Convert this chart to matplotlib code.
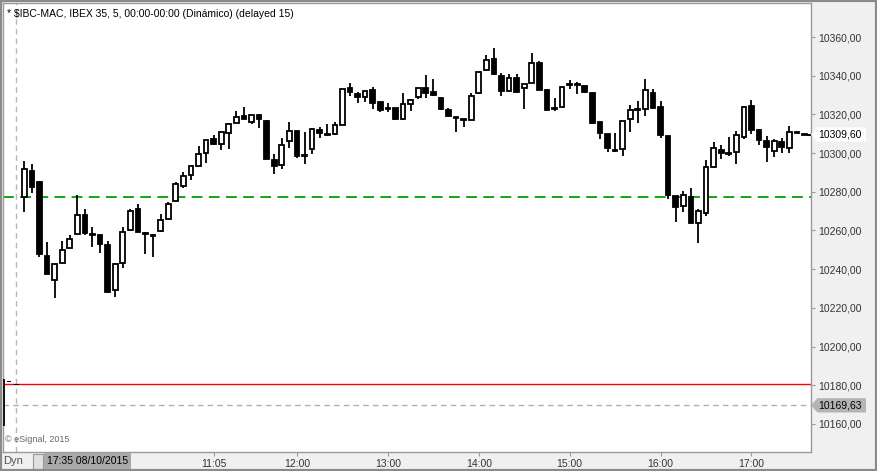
import numpy as np
import matplotlib.pyplot as plt
from matplotlib.patches import Polygon, Rectangle

plt.rcParams['font.family'] = ['Liberation Sans', 'DejaVu Sans']

# 5-minute IBEX 35 candles, 08/10/2015 09:00 -> 17:35
opens = [10277.5, 10290.7, 10285.1, 10246.7, 10234.3, 10243.1, 10250.8, 10258.0, 10267.9, 10258.0,
         10257.5, 10252.4, 10229.1, 10243.0, 10260.4, 10271.0, 10258.3, 10257.7, 10259.6, 10265.8,
         10275.1, 10282.8, 10288.8, 10293.5, 10299.9, 10307.1, 10304.5, 10310.2, 10315.4, 10319.0,
         10315.9, 10319.7, 10316.4, 10296.3, 10293.7, 10306.1, 10311.3, 10298.9, 10302.3, 10311.9,
         10309.9, 10309.7, 10314.7, 10333.5, 10330.7, 10328.8, 10332.5, 10326.3, 10323.0, 10323.3,
         10317.8, 10325.3, 10328.8, 10333.5, 10331.4, 10328.3, 10322.1, 10318.5, 10317.5, 10317.0,
         10331.2, 10342.8, 10348.5, 10339.7, 10331.9, 10338.7, 10333.5, 10336.1, 10346.4, 10332.5,
         10323.2, 10323.7, 10335.2, 10335.6, 10334.5, 10330.9, 10315.9, 10309.9, 10301.2, 10302.1,
         10317.5, 10322.5, 10322.6, 10330.9, 10323.7, 10308.7, 10277.7, 10272.5, 10277.5, 10264.0,
         10269.2, 10293.0, 10301.6, 10299.7, 10300.4, 10308.2, 10324.2, 10311.8, 10306.1, 10300.9,
         10305.6, 10302.5, 10310.6, 10309.7]
highs = [10295.9, 10294.4, 10285.6, 10254.1, 10242.5, 10254.4, 10257.7, 10278.3, 10271.1, 10261.6,
         10257.5, 10254.6, 10243.0, 10261.6, 10271.0, 10273.7, 10259.1, 10258.3, 10268.5, 10274.6,
         10284.9, 10290.1, 10293.2, 10303.7, 10306.6, 10309.4, 10310.7, 10315.7, 10321.8, 10323.8,
         10319.7, 10320.1, 10317.3, 10299.5, 10307.6, 10316.1, 10311.3, 10310.9, 10312.8, 10313.5,
         10315.0, 10316.1, 10333.3, 10336.4, 10331.7, 10331.9, 10334.2, 10326.8, 10325.9, 10323.3,
         10331.1, 10327.8, 10333.5, 10340.4, 10338.3, 10328.3, 10323.2, 10318.8, 10317.8, 10330.9,
         10341.8, 10350.5, 10354.3, 10341.2, 10340.7, 10340.7, 10335.6, 10351.7, 10347.4, 10333.0,
         10328.3, 10334.0, 10337.6, 10336.6, 10334.5, 10331.4, 10315.9, 10309.9, 10310.4, 10316.4,
         10324.7, 10326.8, 10338.1, 10333.0, 10326.8, 10308.7, 10277.7, 10280.3, 10281.8, 10271.0,
         10296.4, 10305.7, 10304.2, 10308.3, 10311.4, 10324.2, 10327.3, 10312.3, 10308.7, 10307.1,
         10307.6, 10313.8, 10310.7, 10309.8]
lows = [10269.7, 10279.2, 10246.5, 10237.7, 10225.3, 10243.1, 10250.8, 10258.0, 10257.9, 10251.6,
        10248.2, 10227.5, 10225.8, 10240.5, 10259.9, 10259.4, 10248.0, 10246.5, 10259.1, 10265.8,
        10275.1, 10281.8, 10286.1, 10293.2, 10294.7, 10304.0, 10301.8, 10302.3, 10315.4, 10317.8,
        10315.2, 10313.1, 10296.8, 10289.4, 10292.0, 10302.8, 10297.6, 10294.5, 10299.7, 10307.6,
        10308.8, 10309.2, 10314.4, 10329.7, 10325.7, 10326.6, 10323.0, 10321.4, 10321.4, 10317.3,
        10317.3, 10321.9, 10327.8, 10328.3, 10329.4, 10322.4, 10319.3, 10311.1, 10313.6, 10317.0,
        10330.7, 10342.8, 10340.2, 10329.4, 10331.9, 10330.9, 10323.0, 10336.1, 10332.5, 10322.4,
        10321.9, 10323.7, 10333.0, 10330.4, 10330.9, 10315.2, 10307.4, 10300.7, 10300.7, 10298.7,
        10311.1, 10315.4, 10319.0, 10323.2, 10307.6, 10276.1, 10264.5, 10269.7, 10264.0, 10253.7,
        10267.7, 10292.5, 10297.1, 10298.7, 10294.5, 10307.1, 10309.7, 10304.0, 10295.6, 10297.8,
        10299.9, 10299.9, 10310.3, 10309.4]
closes = [10291.6, 10282.6, 10248.0, 10237.7, 10242.5, 10249.8, 10255.4, 10267.9, 10258.6, 10257.5,
          10252.9, 10228.4, 10242.5, 10259.1, 10269.9, 10259.4, 10258.0, 10257.3, 10265.3, 10273.5,
          10283.9, 10288.0, 10293.2, 10299.5, 10306.6, 10304.9, 10310.7, 10315.0, 10318.5, 10317.8,
          10319.7, 10317.4, 10296.8, 10293.2, 10304.0, 10311.3, 10298.7, 10298.5, 10312.3, 10310.2,
          10309.5, 10314.4, 10333.3, 10331.7, 10328.8, 10331.9, 10325.7, 10322.4, 10322.6, 10317.8,
          10325.3, 10327.3, 10333.5, 10330.9, 10329.9, 10323.0, 10319.3, 10318.2, 10317.2, 10329.4,
          10341.8, 10348.0, 10340.7, 10331.9, 10338.7, 10331.4, 10335.6, 10346.4, 10332.5, 10322.4,
          10322.8, 10334.0, 10335.0, 10335.4, 10331.4, 10315.7, 10310.5, 10302.8, 10301.0, 10316.4,
          10322.1, 10322.2, 10332.5, 10323.5, 10309.2, 10278.5, 10272.0, 10278.2, 10264.0, 10269.9,
          10292.7, 10302.5, 10300.2, 10299.4, 10309.2, 10323.7, 10311.8, 10306.6, 10303.0, 10306.1,
          10303.0, 10310.7, 10310.4, 10309.6]

# tail of the previous session visible at the left edge
prev_opens = [10159.5, 10181.9, 10180.6]
prev_closes = [10182.7, 10181.5, 10180.2]

tick_labels = ['11:05', '12:00', '13:00', '14:00', '15:00', '16:00', '17:00']
tick_index = [25, 36, 48, 60, 72, 84, 96]

green_level = 10277.3
red_level = 10180.5
gray_level = 10169.63
last_price = closes[-1]

W, H = 877, 471
fig = plt.figure(figsize=(W / 100, H / 100), dpi=100)
fig.patch.set_facecolor('#f0f0f0')
ax = fig.add_axes([3 / W, 19 / H, 808 / W, 449 / H])
ax.set_facecolor('white')


def draw_candles(idx, o, h, l, c):
    idx = np.asarray(idx, dtype=float)
    o, h, l, c = map(np.asarray, (o, h, l, c))
    ax.vlines(idx, l, h, color='black', lw=1.3, zorder=3)
    up = c > o + 0.3
    bot = np.minimum(o, c)
    hgt = np.maximum(np.abs(c - o), 0.5)
    ax.bar(idx[up], hgt[up], bottom=bot[up], width=0.62, facecolor='white',
           edgecolor='black', lw=1.3, zorder=4)
    ax.bar(idx[~up], hgt[~up], bottom=bot[~up], width=0.62, facecolor='black',
           edgecolor='black', lw=1.3, zorder=4)


x = np.arange(len(opens))
draw_candles(x, opens, highs, lows, closes)
px = np.array([-3, -2, -1])
pc = np.array(prev_closes)
po = np.array(prev_opens)
ax.vlines(px, np.minimum(po, pc), np.maximum(po, pc), color='black', lw=1.3, zorder=3)
ax.bar(px[:1], pc[:1] - po[:1], bottom=po[:1], width=0.62, facecolor='white',
       edgecolor='black', lw=1.3, zorder=4)
ax.bar(px[1:], 0.6, bottom=pc[1:], width=0.62, color='black', zorder=4)

ax.set_xlim(-2.81, 103.86)
ax.set_ylim(10145.5, 10377.6)

# reference lines
ax.axhline(green_level, color='#00a000', lw=1.3, dashes=(6, 3.5), zorder=2)
ax.axhline(red_level, color='#ff0000', lw=1.0, zorder=2)
ax.axhline(gray_level, color='#b0b0b0', lw=1.0, dashes=(4, 3), zorder=2)
ax.axvline(-1.1, color='#b8b8b8', lw=1.0, dashes=(4, 3), zorder=1)
ax.plot([103.3, 103.86], [last_price, last_price], color='black', lw=1.5,
        dashes=(2.5, 2), zorder=2, clip_on=False)

# axes styling
for s in ax.spines.values():
    s.set_color('#9a9a9a')
    s.set_linewidth(1.0)
ax.yaxis.tick_right()
yt = np.arange(10160, 10361, 20)
ax.set_yticks(yt)
ax.set_yticklabels([f'{v:.2f}'.replace('.', ',') for v in yt])
ax.tick_params(axis='y', direction='out', length=3, width=0.8, color='#9a9a9a',
               labelsize=7.5, labelcolor='#333333', pad=2)
ax.set_xticks(tick_index)
ax.set_xticklabels(tick_labels)
ax.tick_params(axis='x', direction='out', length=3, width=0.8, color='#9a9a9a',
               labelsize=7.5, labelcolor='#333333', pad=2)

# title and footer texts
ax.text(4 / 808, 1 - 11 / 449, '* $IBC-MAC, IBEX 35, 5, 00:00-00:00 (Dinámico) (delayed 15)',
        transform=ax.transAxes, fontsize=7.5, color='black', va='center', ha='left')
ax.text(2 / 808, 13 / 449, '© eSignal, 2015', transform=ax.transAxes, fontsize=6.5,
        color='#666666', va='center', ha='left')

# price boxes on the right axis
yx = ax.get_yaxis_transform()
half = 3.7
for val, fc in [(last_price, 'white'), (gray_level, '#b4b4b4')]:
    poly = Polygon([(1.0, val), (1.008, val + half), (1.068, val + half),
                    (1.068, val - half), (1.008, val - half)],
                   closed=True, transform=yx, facecolor=fc, edgecolor='none',
                   clip_on=False, zorder=5)
    ax.add_patch(poly)
    ax.text(1.009, val, f'{val:.2f}'.replace('.', ','), transform=yx, fontsize=7.5,
            color='black', va='center', ha='left', clip_on=False, zorder=6)

# bottom-left controls
fig.text(3 / W, 1 - 461 / H, 'Dyn', fontsize=8, color='#555555', va='center', ha='left')
fig.patches.append(Rectangle((33 / W, 1 - 469 / H), 10 / W, 15 / H, transform=fig.transFigure,
                             facecolor='#e0e0e0', edgecolor='#999999', lw=0.8))
fig.text(47 / W, 1 - 461 / H, '17:35 08/10/2015', fontsize=7.5, color='black', va='center',
         ha='left', bbox=dict(boxstyle='square,pad=0.25', facecolor='#a8a8a8', edgecolor='none'))

# outer frame
fig.patches.append(Rectangle((0, 0), 1, 1, transform=fig.transFigure, fill=False,
                             edgecolor='#8a8a8a', lw=3))

fig.savefig('out.png', dpi=100, facecolor=fig.get_facecolor())
